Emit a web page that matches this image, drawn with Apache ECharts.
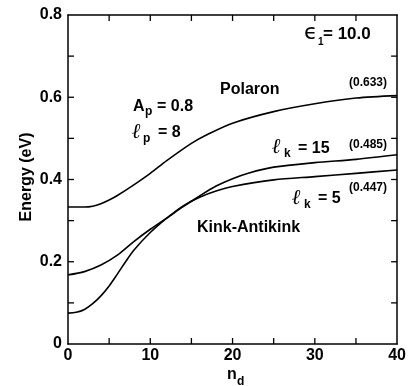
<!DOCTYPE html>
<html>
<head>
<meta charset="utf-8">
<script src="https://cdn.jsdelivr.net/npm/echarts@6/dist/echarts.min.js"></script>
<style>html,body{margin:0;padding:0;background:#fff}#c{width:409px;height:386px}</style>
</head>
<body>
<div id="c"></div>
<script>
// ---- data ----
const polaronN = [0, 2, 3, 4, 5, 6, 8, 10, 12, 15, 17, 20, 25, 30, 35, 40];
const polaronE = [0.333, 0.333, 0.335, 0.341, 0.350, 0.361, 0.387, 0.415, 0.446, 0.488, 0.510, 0.537, 0.565, 0.584, 0.598, 0.604];
const kink15N = [0, 2, 4, 6, 8, 10, 12, 14, 16, 18, 20, 22, 25, 30, 35, 40];
const kink15E = [0.168, 0.176, 0.192, 0.216, 0.249, 0.279, 0.306, 0.334, 0.360, 0.384, 0.402, 0.416, 0.430, 0.441, 0.449, 0.460];
const kink5N = [0, 1, 2, 3, 4, 5, 6, 7, 8, 10, 12, 14, 16, 18, 20, 25, 30, 35, 40];
const kink5E = [0.075, 0.077, 0.084, 0.098, 0.117, 0.141, 0.170, 0.200, 0.228, 0.271, 0.306, 0.336, 0.357, 0.372, 0.383, 0.399, 0.407, 0.415, 0.423];
const xTicks = [0, 10, 20, 30, 40];
const yTicks = [0, 0.2, 0.4, 0.6, 0.8];
const xTickMarks = [5, 10, 15, 20, 25, 30, 35];
const yTickMarks = [0.1, 0.2, 0.3, 0.4, 0.5, 0.6, 0.7];

const pair = (xs, ys) => xs.map((x, i) => [x, ys[i]]);
const FONT = '"Liberation Sans", Arial, sans-serif';
const X0 = xTicks[0], X1 = xTicks[xTicks.length - 1];
const Y0 = yTicks[0], Y1 = yTicks[yTicks.length - 1];

function mkAxis(pos, min, max, interval, label) {
  return {
    gridIndex: 0, type: 'value', position: pos, min: min, max: max, interval: interval,
    axisLine: { show: true, onZero: false, lineStyle: { color: '#000', width: 1.5 } },
    axisTick: { show: false },
    minorTick: { show: false },
    splitLine: { show: false },
    minorSplitLine: { show: false },
    axisLabel: label
  };
}

function txt(x, y, text, size, opts) {
  opts = opts || {};
  return {
    type: 'text', x: x, y: y, rotation: opts.rotation || 0, z: 100,
    style: {
      text: text, fill: '#000',
      font: (opts.italic ? 'italic ' : '') + (opts.weight || 'bold') + ' ' + size + 'px ' + (opts.family || FONT),
      align: opts.align || 'left', verticalAlign: 'middle'
    }
  };
}

// tick marks (inward, on all four sides) drawn through the axes' own scales
const tickData = []
  .concat(xTickMarks.map(v => [v, 0]), xTickMarks.map(v => [v, 1]))
  .concat(yTickMarks.map(v => [v, 2]), yTickMarks.map(v => [v, 3]));
const TL = 6;
function renderTick(params, api) {
  const v = api.value(0), side = api.value(1);
  let p, q;
  if (side === 0) { p = api.coord([v, Y0]); q = [p[0], p[1] - TL]; }
  else if (side === 1) { p = api.coord([v, Y1]); q = [p[0], p[1] + TL]; }
  else if (side === 2) { p = api.coord([X0, v]); q = [p[0] + TL, p[1]]; }
  else { p = api.coord([X1, v]); q = [p[0] - TL, p[1]]; }
  return { type: 'line', shape: { x1: p[0], y1: p[1], x2: q[0], y2: q[1] },
           style: { stroke: '#000', lineWidth: 1.3 } };
}

const chart = echarts.init(document.getElementById('c'));
const line = (name, data) => ({
  name: name, type: 'line', data: data, smooth: 0.3, showSymbol: false,
  lineStyle: { color: '#000', width: 1.6 }, xAxisIndex: 0, yAxisIndex: 0
});
const lab = { show: true, color: '#000', fontFamily: FONT, fontWeight: 'bold', fontSize: 16 };

chart.setOption({
  animation: false,
  grid: [{ left: 68, width: 332, top: 15, height: 329 }],
  xAxis: [
    mkAxis('bottom', X0, X1, 10, Object.assign({ margin: 4 }, lab)),
    mkAxis('top', X0, X1, 10, { show: false })
  ],
  yAxis: [
    mkAxis('left', Y0, Y1, 0.2,
      Object.assign({ margin: 6, formatter: v => v === 0 ? '0' : v.toFixed(1) }, lab)),
    mkAxis('right', Y0, Y1, 0.2, { show: false })
  ],
  series: [
    line('Polaron', pair(polaronN, polaronE)),
    line('lk15', pair(kink15N, kink15E)),
    line('lk5', pair(kink5N, kink5E)),
    { name: 'ticks', type: 'custom', xAxisIndex: 0, yAxisIndex: 0, data: tickData,
      renderItem: renderTick, silent: true, clip: false, z: 10 }
  ],
  graphic: [
    txt(27, 177, 'Energy (eV)', 16, { rotation: Math.PI / 2, align: 'center' }),
    txt(227, 375, 'n', 16),
    txt(237, 382, 'd', 12),
    txt(304, 33, 'ϵ', 22, { family: '"DejaVu Sans", sans-serif', weight: 'normal' }),
    txt(318, 42, '1', 10),
    txt(323, 34, '= 10.0', 17),
    txt(349, 82.5, '(0.633)', 12),
    txt(220, 90, 'Polaron', 16),
    txt(133, 107, 'A', 16),
    txt(145, 112, 'p', 12),
    txt(157, 107, '= 0.8', 16),
    txt(132, 133, 'ℓ', 21, { italic: true, family: '"DejaVu Serif", serif' }),
    txt(143, 139, 'p', 12),
    txt(158, 133, '= 8', 16),
    txt(272, 148, 'ℓ', 21, { italic: true, family: '"DejaVu Serif", serif' }),
    txt(284, 154, 'k', 12),
    txt(298, 149, '= 15', 16),
    txt(349, 145, '(0.485)', 12),
    txt(292, 199, 'ℓ', 21, { italic: true, family: '"DejaVu Serif", serif' }),
    txt(304, 205, 'k', 12),
    txt(318, 199, '= 5', 16),
    txt(349, 187.5, '(0.447)', 12),
    txt(197, 228, 'Kink-Antikink', 16)
  ]
});
</script>
</body>
</html>
